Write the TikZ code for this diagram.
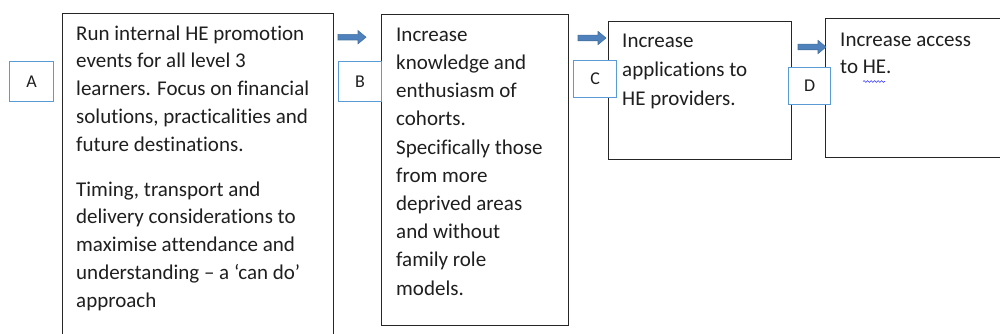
\documentclass[tikz,border=0pt]{standalone}
\usepackage{fontspec}
\setmainfont{Carlito}[Ligatures=NoCommon]
\usetikzlibrary{decorations.pathmorphing}
\definecolor{boxline}{HTML}{262626}
\definecolor{txtcol}{HTML}{1F1F1F}
\definecolor{lblblue}{HTML}{5B9BD5}
\definecolor{arrfill}{HTML}{4F81BD}
\definecolor{arredge}{HTML}{41719C}
\definecolor{squig}{HTML}{3333FF}
\begin{document}
\begin{tikzpicture}[x=1pt,y=-1pt,
  mainbox/.style={draw=boxline, line width=1.2pt, fill=white, inner sep=0pt, anchor=north west},
  lbl/.style={draw=lblblue, line width=1.2pt, fill=white, inner sep=0pt, anchor=north west,
    font=\fontsize{18}{20}\selectfont, text=txtcol},
  txt/.style={text=txtcol, align=left, inner sep=0pt, anchor=base west},
  blockarr/.style={fill=arrfill, draw=arredge, line width=0.6pt}]
\useasboundingbox (0,0) rectangle (1000,334);
% main boxes
\node[mainbox, minimum width=271pt, minimum height=335pt] (b1) at (62,13) {};
\node[mainbox, minimum width=187pt, minimum height=311pt] (b2) at (381,14) {};
\node[mainbox, minimum width=183pt, minimum height=138pt] (b3) at (608,21) {};
\node[mainbox, minimum width=185pt, minimum height=139pt] (b4) at (825,18) {};
% labels
\node[lbl, minimum width=44pt, minimum height=40pt] (la) at (9,61) {A};
\node[lbl, minimum width=43pt, minimum height=40pt] (lb) at (338,61) {B};
\node[lbl, minimum width=43pt, minimum height=37pt] (lc) at (573,60) {C};
\node[lbl, minimum width=42pt, minimum height=37pt] (ld) at (788,67) {D};
% arrows
\coordinate (ar1) at (338,37.2);
\coordinate (ar2) at (578,38);
\coordinate (ar3) at (798,47);
\foreach \c in {ar1,ar2,ar3}{
  \draw[blockarr] (\c) ++(0,-2.8) -- ++(20,0) -- ++(0,-3.8) -- ++(8,6.6)
    -- ++(-8,6.6) -- ++(0,-3.8) -- ++(-20,0) -- cycle;
}
% texts (anchored at the baseline of their last line)
\node[txt, font=\fontsize{21}{27.8}\selectfont] (t1) at (76,307.3)
  {Run internal HE promotion\\events for all level 3\\learners. Focus on financial\\solutions, practicalities and\\future destinations.\\[17pt]Timing, transport and\\delivery considerations to\\maximise attendance and\\understanding -- a `can do'\\approach};
\node[txt, font=\fontsize{21}{28.2}\selectfont] (t2) at (396,295)
  {Increase\\knowledge and\\enthusiasm of\\cohorts.\\Specifically those\\from more\\deprived areas\\and without\\family role\\models.};
\node[txt, font=\fontsize{21}{29}\selectfont] (t3) at (622,106)
  {Increase\\applications to\\HE providers.};
\node[txt, font=\fontsize{21}{27}\selectfont] (t4) at (840,74)
  {Increase access\\to HE.};
\draw[squig, line width=0.6pt, decorate, decoration={snake, amplitude=0.9pt, segment length=3.5pt}]
  (863,81.5) -- (885,81.5);
\end{tikzpicture}
\end{document}
